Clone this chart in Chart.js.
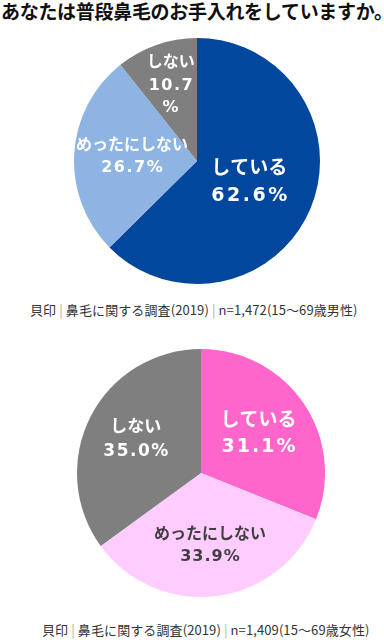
<!DOCTYPE html>
<html lang="ja">
<head>
<meta charset="utf-8">
<script src="https://cdn.jsdelivr.net/npm/chart.js@4"></script>
<style>
  body { margin: 0; width: 384px; height: 642px; background: #fff; position: relative; overflow: hidden; }
  #title { position: absolute; left: 1px; top: 0; font: bold 19px 'Noto Sans CJK JP', sans-serif; line-height: 22px; white-space: nowrap; color: #111; letter-spacing: -0.3px; }
  .src { position: absolute; font: 13px 'Noto Sans CJK JP', sans-serif; color: #333; white-space: nowrap; line-height: 16px; letter-spacing: 0.1px; }
  .src .bar { color: #aaa; }
  canvas { position: absolute; }
</style>
</head>
<body>
<div id="title">あなたは普段鼻毛のお手入れをしていますか。</div>
<canvas id="male" width="246" height="246" style="left:74px; top:38px;"></canvas>
<div class="src" id="srcMale" style="left:30px; top:302px;"></div>
<canvas id="female" width="248" height="248" style="left:77px; top:349px;"></canvas>
<div class="src" id="srcFemale" style="left:42px; top:622px;"></div>
<script>
// data
const categories = ['している', 'めったにしない', 'しない'];
const maleValues = [62.6, 26.7, 10.7];
const femaleValues = [31.1, 33.9, 35.0];
const maleColors = ['#00479D', '#8EB4E3', '#7F7F7F'];
const femaleColors = ['#FF66CC', '#FFCCFF', '#7F7F7F'];
const maleSource = ['貝印', '鼻毛に関する調査(2019)', 'n=1,472(15～69歳男性)'];
const femaleSource = ['貝印', '鼻毛に関する調査(2019)', 'n=1,409(15～69歳女性)'];

function setSource(id, parts) {
  document.getElementById(id).innerHTML = parts.join(' <span class="bar">|</span> ');
}
setSource('srcMale', maleSource);
setSource('srcFemale', femaleSource);

// draws the slice labels inside the pie
const sliceLabels = {
  id: 'sliceLabels',
  afterDatasetsDraw(chart, args, opts) {
    const ctx = chart.ctx;
    const meta = chart.getDatasetMeta(0);
    const values = chart.data.datasets[0].data;
    meta.data.forEach((arc, i) => {
      const p = arc.getProps(['x', 'y', 'startAngle', 'endAngle', 'outerRadius'], true);
      const mid = (p.startAngle + p.endAngle) / 2;
      const r = p.outerRadius * opts.radius[i];
      const cx = p.x + Math.cos(mid) * r;
      const cy = p.y + Math.sin(mid) * r;
      const pct = values[i].toFixed(1) + '%';
      let lines = [chart.data.labels[i], pct];
      if (opts.splitPct[i]) lines = [chart.data.labels[i], values[i].toFixed(1), '%'];
      const size = opts.size[i];
      const lh = size * 1.4;
      ctx.save();
      ctx.fillStyle = opts.color[i];
      ctx.textAlign = 'center';
      ctx.textBaseline = 'middle';
      ctx.font = 'bold ' + size + 'px "DejaVu Sans", "Noto Sans CJK JP", sans-serif';
      const top = cy - (lines.length - 1) * lh / 2;
      lines.forEach((t, k) => {
        // spacing only on the number lines, kana stay tight
        const sp = k === 0 ? 0 : opts.numSpacing[i];
        ctx.letterSpacing = sp + 'px';
        ctx.fillText(t, cx + sp / 2, top + k * lh);
      });
      ctx.restore();
    });
  }
};

function makePie(id, values, colors, labelOpts) {
  return new Chart(document.getElementById(id), {
    type: 'pie',
    data: {
      labels: categories,
      datasets: [{ data: values, backgroundColor: colors, borderWidth: 0 }]
    },
    options: {
      responsive: false,
      animation: false,
      events: [],
      layout: { padding: 0 },
      plugins: {
        legend: { display: false },
        tooltip: { enabled: false },
        sliceLabels: labelOpts
      }
    },
    plugins: [sliceLabels]
  });
}

makePie('male', maleValues, maleColors, {
  radius: [0.46, 0.53, 0.65],
  size: [19, 16, 16],
  numSpacing: [2.5, 1.5, 1.5],
  color: ['#fff', '#fff', '#fff'],
  splitPct: [false, false, true]
});
makePie('female', femaleValues, femaleColors, {
  radius: [0.56, 0.59, 0.59],
  size: [19, 16, 17],
  numSpacing: [2, 1, 1.5],
  color: ['#fff', '#404040', '#fff'],
  splitPct: [false, false, false]
});
</script>
</body>
</html>
